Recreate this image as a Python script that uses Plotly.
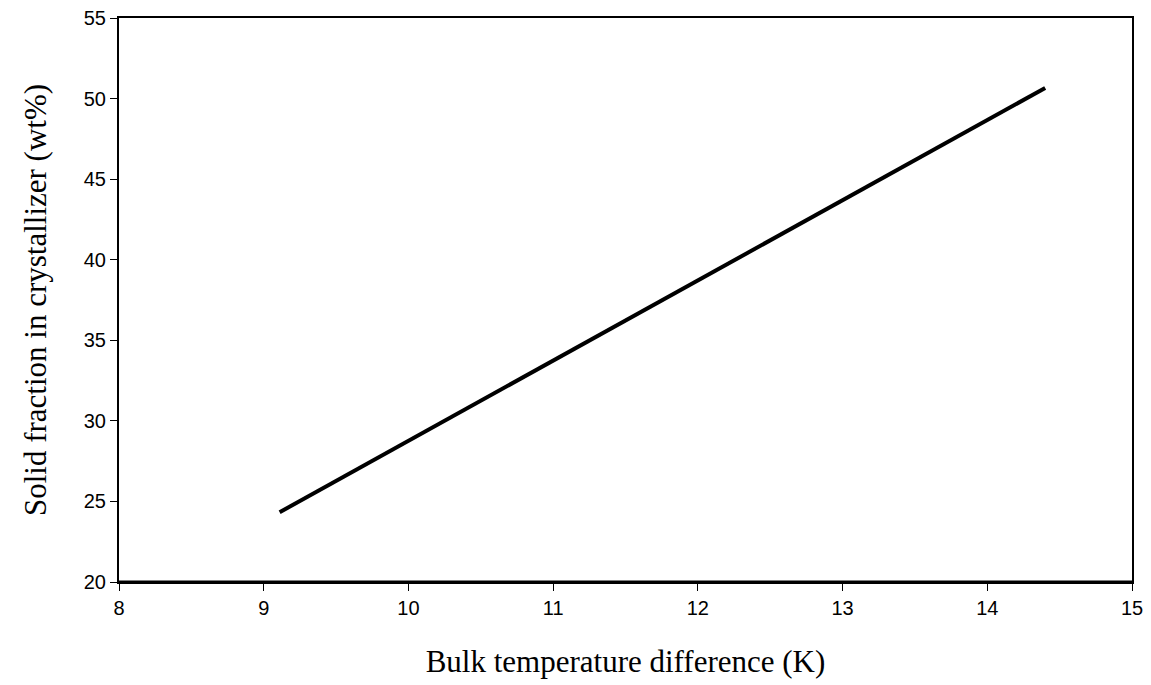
import plotly.graph_objects as go

temp_diff = [9.11, 14.40]
solid_fraction = [24.33, 50.66]

x_ticks = [8, 9, 10, 11, 12, 13, 14, 15]
y_ticks = [20, 25, 30, 35, 40, 45, 50, 55]

fig = go.Figure()
fig.add_trace(go.Scatter(x=temp_diff, y=solid_fraction, mode="lines",
                         line=dict(color="black", width=4), showlegend=False))

fig.add_shape(type="line", xref="x", yref="y", x0=8, x1=15, y0=20, y1=20,
              line=dict(color="black", width=3))

fig.update_layout(
    width=1151, height=685,
    margin=dict(l=119, r=19, t=18, b=103),
    paper_bgcolor="white", plot_bgcolor="white",
    font=dict(family="Liberation Sans, Arial", color="black", size=20),
)
fig.update_xaxes(range=[8, 15], tickvals=x_ticks, showgrid=False, zeroline=False,
                 automargin=False,
                 showline=True, linecolor="black", linewidth=2, mirror=True,
                 ticks="outside", ticklen=7, tickwidth=1, tickcolor="black",
                 tickfont=dict(size=20),
                 title=dict(text="Bulk temperature difference (K)",
                            font=dict(family="Liberation Serif, Times New Roman", size=31),
                            standoff=32))
fig.update_yaxes(range=[20, 55], tickvals=y_ticks, showgrid=False, zeroline=False,
                 automargin=False,
                 showline=True, linecolor="black", linewidth=2, mirror=True,
                 ticks="outside", ticklen=7, tickwidth=1, tickcolor="black",
                 tickfont=dict(size=20),
                 title=dict(text="Solid fraction in crystallizer (wt%)",
                            font=dict(family="Liberation Serif, Times New Roman", size=31),
                            standoff=28))

fig.write_html("out.html", config={"displayModeBar": False},
               post_script="document.body.style.margin='0';")
